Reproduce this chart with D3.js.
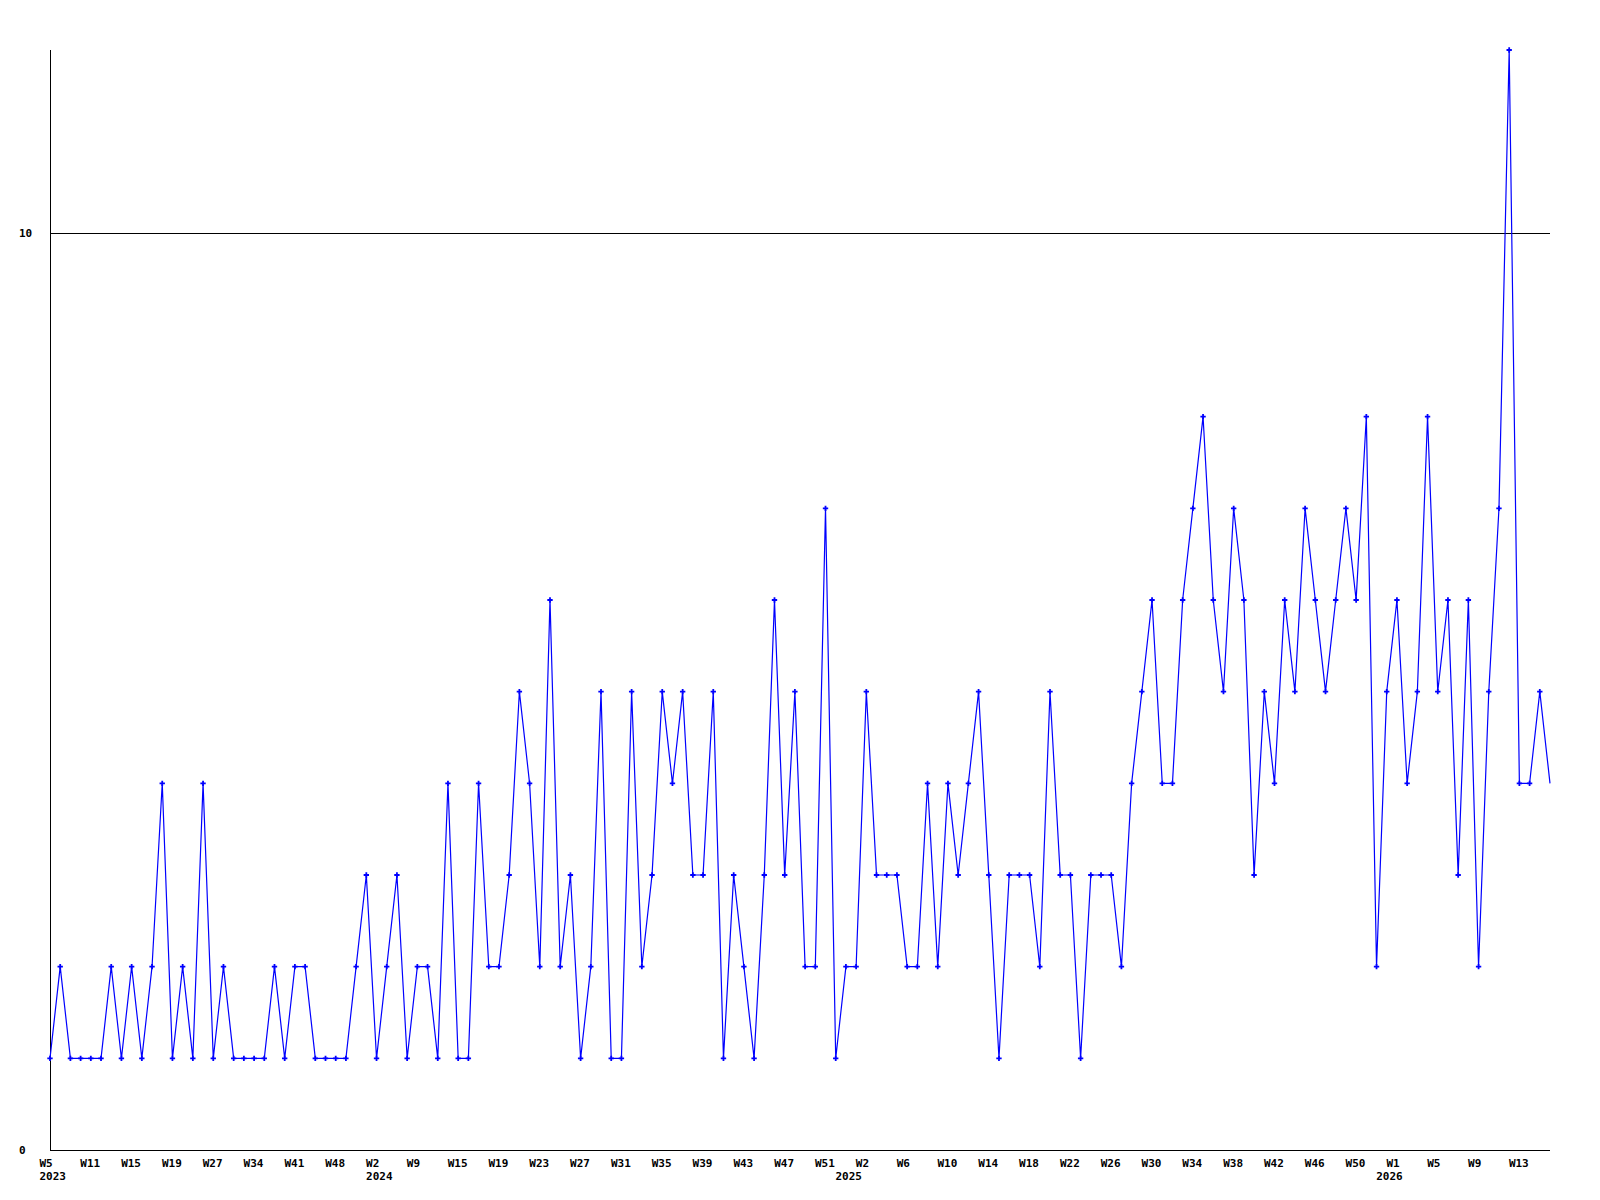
<!DOCTYPE html>
<html>
<head>
<meta charset="utf-8">
<script src="https://cdn.jsdelivr.net/npm/d3@7/dist/d3.min.js"></script>
<style>
  html, body { margin: 0; padding: 0; background: #ffffff; }
  svg { display: block; }
  text { font-family: "DejaVu Sans Mono", "Liberation Mono", monospace; font-weight: bold; font-size: 11px; fill: #000; }
</style>
</head>
<body>
<svg id="chart" width="1600" height="1200"></svg>
<script>
// ---- data ----
const values = [
  1,2,1,1,1,1,2,1,2,1,
  2,4,1,2,1,4,1,2,1,1,
  1,1,2,1,2,2,1,1,1,1,
  2,3,1,2,3,1,2,2,1,4,
  1,1,4,2,2,3,5,4,2,6,
  2,3,1,2,5,1,1,5,2,3,
  5,4,5,3,3,5,1,3,2,1,
  3,6,3,5,2,2,7,1,2,2,
  5,3,3,3,2,2,4,2,4,3,
  4,5,3,1,3,3,3,2,5,3,
  3,1,3,3,3,2,4,5,6,4,
  4,6,7,8,6,5,7,6,3,5,
  4,6,5,7,6,5,6,7,6,8,
  2,5,6,4,5,8,5,6,3,6,
  2,5,7,12,4,4,5,4
];
const weekTickLabels = ["W5","W11","W15","W19","W27","W34","W41","W48",
  "W2","W9","W15","W19","W23","W27","W31","W35","W39","W43","W47","W51",
  "W2","W6","W10","W14","W18","W22","W26","W30","W34","W38","W42","W46","W50",
  "W1","W5","W9","W13"];
const weekTickStep = 4;
const yearLabels = ["2023","2024","2025","2026"];
const yearLabelIndex = [0, 32, 78, 131];
const yTickValues = [0, 10];
const yMax = 12;

// ---- layout ----
const svg = d3.select("#chart");
const mLeft = 50, mRight = 1550, mTop = 50, mBottom = 1150;

const x = d3.scaleLinear().domain([0, values.length - 1]).range([mLeft, mRight]);
const y = d3.scaleLinear().domain([0, yMax]).range([mBottom, mTop]);

// gridline(s) at non-zero y ticks
svg.append("g").selectAll("line")
  .data(yTickValues.filter(v => v !== 0))
  .join("line")
  .attr("x1", mLeft).attr("x2", mRight)
  .attr("y1", d => Math.round(y(d)) + 0.5).attr("y2", d => Math.round(y(d)) + 0.5)
  .attr("stroke", "#000").attr("stroke-width", 1)
  .attr("shape-rendering", "crispEdges");

// y axis labels
svg.append("g").selectAll("text")
  .data(yTickValues)
  .join("text")
  .attr("x", 19)
  .attr("y", d => y(d))
  .attr("dy", "0.35em")
  .text(d => d);

// axes lines
svg.append("line")
  .attr("x1", mLeft + 0.5).attr("x2", mLeft + 0.5)
  .attr("y1", mTop).attr("y2", mBottom)
  .attr("stroke", "#000").attr("shape-rendering", "crispEdges");
svg.append("line")
  .attr("x1", mLeft).attr("x2", mRight)
  .attr("y1", mBottom + 0.5).attr("y2", mBottom + 0.5)
  .attr("stroke", "#000").attr("shape-rendering", "crispEdges");

// x labels (weeks)
svg.append("g").selectAll("text")
  .data(weekTickLabels)
  .join("text")
  .attr("x", (d, i) => x(i * weekTickStep) - 10.5)
  .attr("y", mBottom + 17)
  .text(d => d);

// year labels
svg.append("g").selectAll("text")
  .data(yearLabels)
  .join("text")
  .attr("x", (d, i) => x(yearLabelIndex[i]) - 10.5)
  .attr("y", mBottom + 30)
  .text(d => d);

// data line
const line = d3.line().x((d, i) => x(i)).y(d => y(d));
svg.append("path")
  .datum(values)
  .attr("d", line)
  .attr("fill", "none")
  .attr("stroke", "#0000ff")
  .attr("stroke-width", 1.2);

// markers (small crosses), last point without marker
const cross = d3.symbol().type(d3.symbolCross).size(16);
svg.append("g").selectAll("path")
  .data(values.slice(0, values.length - 1))
  .join("path")
  .attr("transform", (d, i) => `translate(${x(i)},${y(d)})`)
  .attr("d", cross)
  .attr("fill", "#0000ff");
</script>
</body>
</html>
